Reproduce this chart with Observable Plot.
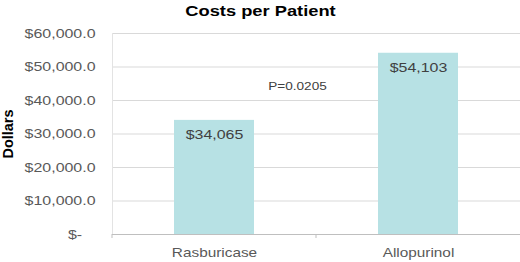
<!DOCTYPE html>
<html>
<head>
<meta charset="utf-8">
<script src="https://cdn.jsdelivr.net/npm/d3@7"></script>
<script src="https://cdn.jsdelivr.net/npm/@observablehq/plot@0.6"></script>
<style>
  html, body { margin: 0; padding: 0; background: #fff; }
  svg { font-family: "Liberation Sans", Arial, sans-serif; }
</style>
</head>
<body>
<script>
const categories = ["Rasburicase", "Allopurinol"];
const costs = [34065, 54103];
const yTicks = [0, 10000, 20000, 30000, 40000, 50000, 60000];
const titleText = "Costs per Patient";
const yLabel = "Dollars";
const pLabel = "P=0.0205";

const data = categories.map((c, i) => ({ drug: c, cost: costs[i] }));

const W = 520, H = 262;
const mL = 112, mR = 0, mT = 33, mB = 28;
const frameCenterOffset = W / 2 - (mL + (W - mL - mR) / 2);

const yFmt = d => d === 0 ? "$-\u00a0\u00a0\u00a0" : d3.format("$,.1f")(d);
const vFmt = d3.format("$,");

function boundaryTicks(index, scales, values, dims) {
  const x = scales.x;
  const bw = x.bandwidth ? x.bandwidth() : 0;
  const xs = categories.map(c => x(c));
  const pos = [dims.marginLeft];
  for (let i = 0; i < xs.length - 1; i++) pos.push((xs[i] + bw + xs[i + 1]) / 2);
  const y0 = dims.height - dims.marginBottom;
  const g = d3.create("svg:g");
  g.selectAll("line").data(pos).join("line")
    .attr("x1", d => d).attr("x2", d => d)
    .attr("y1", y0).attr("y2", y0 + 4)
    .attr("stroke", "#bfbfbf");
  return g.node();
}

const chart = Plot.plot({
  width: W,
  height: H,
  marginLeft: mL,
  marginRight: mR,
  marginTop: mT,
  marginBottom: mB,
  x: { domain: categories, paddingInner: 0.61, paddingOuter: 0.305 },
  y: { domain: [0, 60000] },
  marks: [
    Plot.gridY(yTicks, { stroke: "#d9d9d9", strokeOpacity: 1 }),
    Plot.frame({ anchor: "left", stroke: "#e3e3e3" }),
    Plot.barY(data, { x: "drug", y: "cost", fill: "#b7e1e4" }),
    Plot.ruleY([0], { stroke: "#bfbfbf" }),
    boundaryTicks,
    Plot.axisY(yTicks, {
      tickSize: 0, tickPadding: 17, tickFormat: yFmt,
      fontSize: 13.5, fill: "#595959", label: null
    }),
    Plot.axisX({
      tickSize: 0, tickPadding: 13, fontSize: 13, fill: "#595959", label: null
    }),
    Plot.text(data, {
      x: "drug", y: "cost", text: d => vFmt(d.cost),
      lineAnchor: "top", dy: 9, fontSize: 13.5, fill: "#404040"
    }),
    Plot.text([pLabel], {
      frameAnchor: "top", dx: -19, dy: 53, lineAnchor: "middle",
      fontSize: 11.5, fill: "#404040"
    }),
    Plot.text([titleText], {
      frameAnchor: "top", dx: frameCenterOffset, dy: -18, lineAnchor: "bottom",
      fontSize: 15.5, fontWeight: "bold", fill: "#000"
    }),
    Plot.text([yLabel], {
      frameAnchor: "left", dx: -104, rotate: -90, lineAnchor: "middle",
      textAnchor: "middle",
      fontSize: 14.5, fontWeight: "bold", fill: "#000", className: "nostretch"
    })
  ]
});

document.body.append(chart);

// Reference glyphs are drawn horizontally wider than the font's natural width.
const stretch = 1.18;
chart.querySelectorAll("text").forEach(el => {
  if (el.closest(".nostretch")) return;
  const L = el.getComputedTextLength();
  if (L > 0) {
    el.setAttribute("textLength", (L * stretch).toFixed(1));
    el.setAttribute("lengthAdjust", "spacingAndGlyphs");
  }
});
</script>
</body>
</html>
